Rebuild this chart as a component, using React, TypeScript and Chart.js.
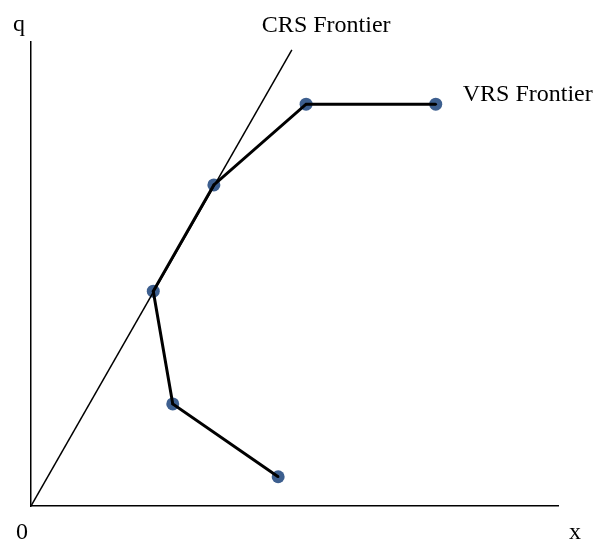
import React, { useEffect, useRef } from "react";
import { Chart, registerables } from "chart.js";

Chart.register(...registerables);

// VRS frontier points (input x, output q)
const vrsX = [4.69, 2.69, 2.32, 3.47, 5.22, 7.68];
const vrsY = [0.63, 2.2, 4.63, 6.92, 8.66, 8.66];
// CRS frontier ray from origin
const crsX = [0, 4.95];
const crsY = [0, 9.83];

const FONT = '24px "Liberation Serif", "Times New Roman", serif';

const labelsPlugin = {
  id: "labels",
  afterDraw(chart: any) {
    const ctx = chart.ctx;
    const xs = chart.scales.x;
    const ys = chart.scales.y;
    ctx.save();
    ctx.fillStyle = "#000";
    ctx.font = FONT;
    ctx.textBaseline = "alphabetic";
    ctx.textAlign = "left";
    // axis labels placed relative to chart area
    const a = chart.chartArea;
    ctx.fillText("q", a.left - 18, a.top - 11);
    ctx.fillText("0", a.left - 15, a.bottom + 33);
    ctx.fillText("x", a.right + 11, a.bottom + 33);
    // series labels, anchored to data
    ctx.fillText("CRS Frontier", xs.getPixelForValue(crsX[1]) - 30, ys.getPixelForValue(crsY[1]) - 18);
    ctx.fillText(
      "VRS Frontier",
      xs.getPixelForValue(vrsX[5]) + 27,
      ys.getPixelForValue(vrsY[5]) - 3
    );
    ctx.restore();
  },
};

export default function App() {
  const ref = useRef<HTMLCanvasElement>(null);
  useEffect(() => {
    if (!ref.current) return;
    const vrs = vrsX.map((x, i) => ({ x, y: vrsY[i] }));
    const crs = crsX.map((x, i) => ({ x, y: crsY[i] }));
    const chart = new Chart(ref.current, {
      type: "scatter",
      data: {
        datasets: [
          {
            label: "VRS markers",
            data: vrs,
            showLine: false,
            pointRadius: 6.5,
            pointBackgroundColor: "#3D5F8F",
            pointBorderWidth: 0,
            order: 3,
          },
          {
            label: "CRS Frontier",
            data: crs,
            showLine: true,
            borderColor: "#000",
            borderWidth: 1.5,
            pointRadius: 0,
            order: 2,
          },
          {
            label: "VRS Frontier",
            data: vrs,
            showLine: true,
            borderColor: "#000",
            borderWidth: 3,
            pointRadius: 1.3,
            pointBackgroundColor: "#000",
            pointBorderWidth: 0,
            order: 1,
          },
        ],
      },
      options: {
        responsive: false,
        animation: false,
        layout: { padding: { left: 31, top: 42, right: 35, bottom: 34 } },
        plugins: { legend: { display: false }, tooltip: { enabled: false } },
        scales: {
          x: {
            type: "linear",
            min: 0,
            max: 10,
            ticks: { display: false },
            grid: { display: false, drawTicks: false, tickLength: 0 },
            border: { display: true, color: "#000", width: 1.5 },
          },
          y: {
            type: "linear",
            min: 0,
            max: 10,
            ticks: { display: false },
            grid: { display: false, drawTicks: false, tickLength: 0 },
            border: { display: true, color: "#000", width: 1.5 },
          },
        },
      },
      plugins: [labelsPlugin],
    });
    return () => chart.destroy();
  }, []);
  return (
    <div style={{ position: "fixed", left: 0, top: 0, width: 593, height: 540, background: "#fff" }}>
      <canvas ref={ref} width={593} height={540} style={{ display: "block" }} />
    </div>
  );
}
